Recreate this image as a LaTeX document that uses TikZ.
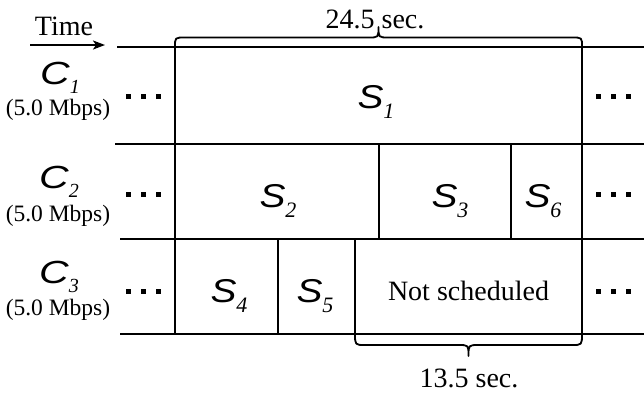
\documentclass[tikz,border=0pt]{standalone}
\usepackage{fontspec}
\usepackage{graphicx}
\setmainfont{Liberation Serif}
\newfontfamily\letterfont{Liberation Sans}
\usetikzlibrary{arrows.meta}

% channel and session symbols: wide sans italic letter with a serif italic index
\newcommand{\chan}[1]{\scalebox{1.28}[1]{\letterfont\itshape\fontsize{32}{32}\selectfont C}\raisebox{-9pt}{\itshape\fontsize{20}{20}\selectfont #1}}
\newcommand{\sess}[1]{\scalebox{1.18}[1]{\letterfont\itshape\fontsize{33}{33}\selectfont S}\raisebox{-10pt}{\itshape\fontsize{22}{22}\selectfont #1}}
% three square dots
\newcommand{\sqdots}{\rule{5pt}{5pt}\hspace{10pt}\rule{5pt}{5pt}\hspace{10pt}\rule{5pt}{5pt}}

\begin{document}
\begin{tikzpicture}[x=1pt,y=-1pt,line width=2pt,
  lbl/.style={inner sep=0pt,font=\fontsize{28}{28}\selectfont},
  rate/.style={inner sep=0pt,font=\fontsize{23.5}{24}\selectfont},
  sym/.style={inner sep=0pt,anchor=base},
  dotnode/.style={inner sep=0pt},
  bracepath/.style={line width=1.8pt,line join=round}]
\useasboundingbox (0,0) rectangle (644,392);

% time axis
\node[lbl,anchor=base] (time) at (64,35) {Time};
\coordinate (arrS) at (30,45);
\coordinate (arrE) at (105,45);
\draw[-{Stealth[length=12pt,width=9pt,inset=3pt]}] (arrS) -- (arrE);

% horizontal row lines
\coordinate (h0s) at (117,46.5);  \coordinate (h0e) at (644,46.5);
\coordinate (h1s) at (115,143.5); \coordinate (h1e) at (644,143.5);
\coordinate (h2s) at (120,238.5); \coordinate (h2e) at (644,238.5);
\coordinate (h3s) at (120,333.5); \coordinate (h3e) at (644,333.5);
\draw (h0s) -- (h0e);
\draw (h1s) -- (h1e);
\draw (h2s) -- (h2e);
\draw (h3s) -- (h3e);

% window borders
\coordinate (wlt) at (175,46.5); \coordinate (wlb) at (175,333.5);
\coordinate (wrt) at (582,46.5); \coordinate (wrb) at (582,333.5);
\draw (wlt) -- (wlb);
\draw (wrt) -- (wrb);

% cell dividers
\coordinate (d23t) at (379,143.5); \coordinate (d23b) at (379,238.5);
\coordinate (d36t) at (511,143.5); \coordinate (d36b) at (511,238.5);
\coordinate (d45t) at (278,238.5); \coordinate (d45b) at (278,333.5);
\coordinate (d5nt) at (355,238.5); \coordinate (d5nb) at (355,333.5);
\draw (d23t) -- (d23b);
\draw (d36t) -- (d36b);
\draw (d45t) -- (d45b);
\draw (d5nt) -- (d5nb);

% channel labels
\node[sym] (c1) at (60,84) {\chan{1}};
\node[rate] (r1) at (58,110) {(5.0 Mbps)};
\node[sym] (c2) at (59,188) {\chan{2}};
\node[rate] (r2) at (58,216) {(5.0 Mbps)};
\node[sym] (c3) at (59,283) {\chan{3}};
\node[rate] (r3) at (58,310) {(5.0 Mbps)};

% continuation dots
\node[dotnode] (l1) at (143,96.5) {\sqdots};
\node[dotnode] (l2) at (143,194) {\sqdots};
\node[dotnode] (l3) at (143,291) {\sqdots};
\node[dotnode] (q1) at (613,96.5) {\sqdots};
\node[dotnode] (q2) at (613,194) {\sqdots};
\node[dotnode] (q3) at (613,291) {\sqdots};

% sessions
\node[sym] (s1) at (376,108) {\sess{1}};
\node[sym] (s2) at (278,207) {\sess{2}};
\node[sym] (s3) at (450,207) {\sess{3}};
\node[sym] (s6) at (543,207) {\sess{6}};
\node[sym] (s4) at (229,302) {\sess{4}};
\node[sym] (s5) at (315,302) {\sess{5}};
\node[lbl,anchor=base] (ns) at (468.5,300) {Not scheduled};

% braces
\coordinate (tb) at (378.5,27);
\draw[bracepath] (wlt) .. controls (175,37.5) .. (185,37.5) -- (368.5,37.5)
  .. controls (378.5,37.5) .. (tb) .. controls (378.5,37.5) .. (388.5,37.5)
  -- (572,37.5) .. controls (582,37.5) .. (wrt);
\node[lbl,anchor=base] (top) at (375,28) {24.5 sec.};

\coordinate (bb) at (468.5,356);
\draw[bracepath] (d5nb) .. controls (355,345) .. (365,345) -- (458.5,345)
  .. controls (468.5,345) .. (bb) .. controls (468.5,345) .. (478.5,345)
  -- (572,345) .. controls (582,345) .. (wrb);
\node[lbl,anchor=base] (bot) at (469,387) {13.5 sec.};
\end{tikzpicture}
\end{document}
